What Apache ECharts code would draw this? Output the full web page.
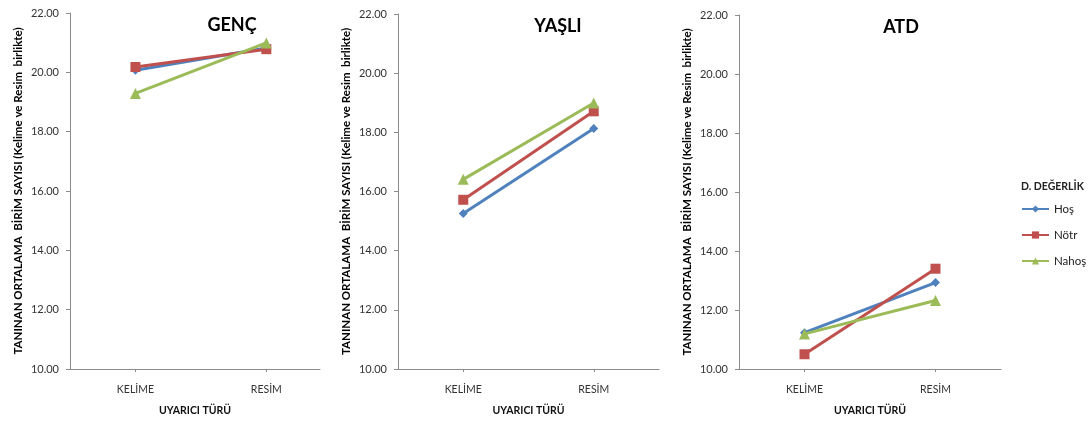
<!DOCTYPE html>
<html>
<head>
<meta charset="utf-8">
<script src="https://cdn.jsdelivr.net/npm/echarts@6/dist/echarts.min.js"></script>
<style>
  html, body { margin: 0; padding: 0; background: #ffffff; }
  #chart { width: 1092px; height: 421px; }
</style>
</head>
<body>
<div id="chart"></div>
<script>
// Stimulus types on the horizontal axis
const categories = ['KELİME', 'RESİM'];
// Emotional valence groups
const valenceNames = ['Hoş', 'Nötr', 'Nahoş'];
// Panel titles
const panelTitles = ['GENÇ', 'YAŞLI', 'ATD'];

// Mean number of recognised items, per group: [KELİME, RESİM]
const gencHos   = [20.07, 20.82];
const gencNotr  = [20.18, 20.78];
const gencNahos = [19.29, 20.99];

const yasliHos   = [15.26, 18.13];
const yasliNotr  = [15.72, 18.71];
const yasliNahos = [16.41, 18.99];

const atdHos   = [11.23, 12.93];
const atdNotr  = [10.50, 13.40];
const atdNahos = [11.19, 12.32];

// Y axis ticks
const yMin = 10, yMax = 22, yStep = 2;

const panelData = [
  [gencHos, gencNotr, gencNahos],
  [yasliHos, yasliNotr, yasliNahos],
  [atdHos, atdNotr, atdNahos]
];

const colors = ['#4F81BD', '#C0504D', '#9BBB59'];
const symbols = ['diamond', 'rect', 'triangle'];
const symbolSizes = [9, 10, 11];
const FONT = 'Lato, "Open Sans", sans-serif';

// Plot areas in pixels
const grids = [
  { left: 70,  top: 13, width: 250, height: 361 },
  { left: 398, top: 14, width: 261, height: 362 },
  { left: 739, top: 15, width: 262, height: 362 }
];
const xRanges = [[0.5, 2.41], [0.5, 2.5], [0.5, 2.5]];
const titleCenters = [[227, 11], [553, 12], [896, 13]];

const catPos = categories.map((c, i) => i + 1);

const option = {
  animation: false,
  backgroundColor: '#ffffff',
  title: panelTitles.map((t, i) => ({
    text: t,
    left: titleCenters[i][0],
    top: titleCenters[i][1],
    textAlign: 'center',
    textStyle: { fontFamily: FONT, fontSize: 18, fontWeight: 'bold', color: '#000' }
  })).concat([{
    text: 'D. DEĞERLİK',
    left: 1016,
    top: 176,
    textStyle: { fontFamily: FONT, fontSize: 10.5, fontWeight: 'bold', color: '#222' }
  }]),
  legend: {
    data: valenceNames,
    orient: 'vertical',
    left: 1016,
    top: 198,
    itemWidth: 27,
    itemHeight: 9,
    itemGap: 14,
    textStyle: { fontFamily: FONT, fontSize: 11.5, color: '#222' }
  },
  grid: grids.map(g => Object.assign({ containLabel: false }, g)),
  xAxis: grids.map((g, i) => ({
    type: 'value',
    gridIndex: i,
    min: xRanges[i][0],
    max: xRanges[i][1],
    name: 'UYARICI TÜRÜ',
    nameLocation: 'middle',
    nameGap: 36,
    nameTextStyle: { fontFamily: FONT, fontSize: 10.5, fontWeight: 'bold', color: '#111' },
    splitLine: { show: false },
    axisLine: { show: true, lineStyle: { color: '#8c8c8c', width: 1 } },
    axisTick: { show: true, length: 3, customValues: catPos, lineStyle: { color: '#8c8c8c' } },
    axisLabel: {
      customValues: catPos,
      margin: 15,
      fontFamily: FONT, fontSize: 10.5, color: '#333',
      formatter: v => categories[Math.round(v) - 1] || ''
    }
  })),
  yAxis: grids.map((g, i) => ({
    type: 'value',
    gridIndex: i,
    min: yMin,
    max: yMax,
    interval: yStep,
    name: 'TANINAN ORTALAMA  BİRİM SAYISI (Kelime ve Resim  birlikte)',
    nameLocation: 'middle',
    nameRotate: 90,
    nameGap: 46,
    nameTextStyle: { fontFamily: FONT, fontSize: 11.5, fontWeight: 'bold', color: '#000' },
    splitLine: { show: false },
    axisLine: { show: true, lineStyle: { color: '#8c8c8c', width: 1 } },
    axisTick: { show: true, inside: false, length: 4, lineStyle: { color: '#8c8c8c' } },
    axisLabel: {
      margin: 11,
      fontFamily: FONT, fontSize: 11, color: '#333',
      formatter: v => v.toFixed(2)
    }
  })),
  series: []
};

panelData.forEach((groups, p) => {
  groups.forEach((vals, s) => {
    option.series.push({
      type: 'line',
      name: valenceNames[s],
      xAxisIndex: p,
      yAxisIndex: p,
      data: vals.map((v, k) => [catPos[k], v]),
      color: colors[s],
      symbol: symbols[s],
      symbolSize: symbolSizes[s],
      showSymbol: true,
      lineStyle: { width: 3, color: colors[s] },
      itemStyle: { color: colors[s] },
      z: 2 + s
    });
  });
});

const chart = echarts.init(document.getElementById('chart'), null, { renderer: 'canvas' });
chart.setOption(option);
</script>
</body>
</html>
